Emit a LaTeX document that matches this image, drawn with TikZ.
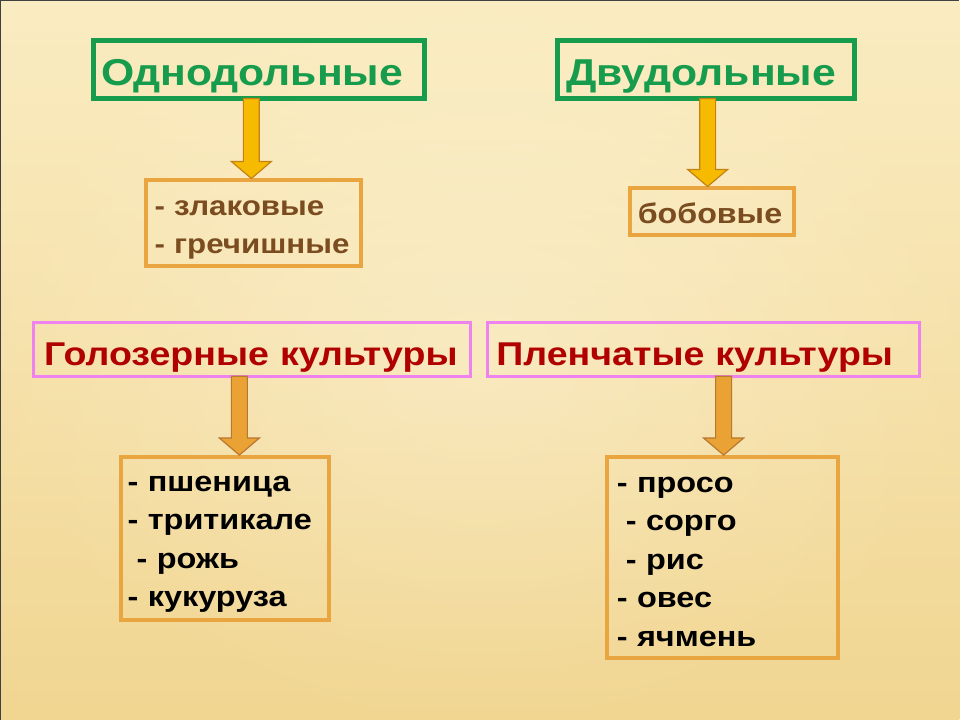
\documentclass[tikz,border=0pt]{standalone}
\usepackage{fontspec}
\setmainfont[FakeStretch=1.14]{Liberation Sans}
\usetikzlibrary{calc}

\definecolor{paperlight}{RGB}{253,242,206}
\definecolor{paperdark}{RGB}{241,214,146}
\definecolor{classgreen}{RGB}{22,156,76}
\definecolor{listorange}{RGB}{233,166,64}
\definecolor{listbrown}{RGB}{122,76,32}
\definecolor{cultpink}{RGB}{238,130,238}
\definecolor{cultred}{RGB}{176,0,0}
\definecolor{goldfill}{RGB}{246,186,0}
\definecolor{goldline}{RGB}{196,130,20}
\definecolor{amberfill}{RGB}{234,162,52}
\definecolor{amberline}{RGB}{184,120,48}

\tikzset{
  classbox/.style={draw=classgreen, line width=5pt, text=classgreen,
    font=\fontsize{37.5}{44}\selectfont\bfseries, align=left, inner xsep=8pt, inner ysep=0pt},
  groupbox/.style={draw=listorange, line width=4pt, text=listbrown,
    font=\fontsize{27.5}{38}\selectfont\bfseries, align=left, inner xsep=9pt, inner ysep=0pt},
  cultbox/.style={draw=cultpink, line width=3pt, text=cultred,
    font=\fontsize{33}{40}\selectfont\bfseries, align=left, inner xsep=11pt, inner ysep=0pt},
  cropbox/.style={draw=listorange, line width=4pt, text=black,
    font=\fontsize{28.5}{38.5}\selectfont\bfseries, align=left, inner xsep=8pt, inner ysep=0pt},
  goldarrow/.style={fill=goldfill, draw=goldline, line width=1.2pt, line join=miter},
  amberarrow/.style={fill=amberfill, draw=amberline, line width=1.2pt, line join=miter}
}

% strut: height, depth
\newcommand{\lift}[2]{\rule[-#2pt]{0pt}{\dimexpr #1pt+#2pt\relax}}

% block arrow: style, from node, to node, x position
\newcommand{\blockarrow}[4]{%
  \draw[#1] let \p1=(#2.south), \p2=(#3.north) in
    (#4pt-8pt,\y1+2pt) -- (#4pt+8pt,\y1+2pt) -- (#4pt+8pt,\y2+17pt)
    -- (#4pt+20pt,\y2+17pt) -- (#4pt,\y2) -- (#4pt-20pt,\y2+17pt)
    -- (#4pt-8pt,\y2+17pt) -- cycle;}

\begin{document}
\begin{tikzpicture}[x=1pt,y=-1pt]
% background
\shade[top color=paperlight, bottom color=paperdark] (0,0) rectangle (960,720);
\shade[inner color=white, outer color=paperdark, opacity=0.2] (0,0) rectangle (960,720);
\draw[black!75, line width=1.5pt] (0,720) -- (0,0) -- (960,0);

% classes
\node[classbox, minimum width=332pt, minimum height=58pt, text width=316pt] (mono) at (258.5,68.5) {\lift{41}{8}Однодольные};
\node[classbox, minimum width=298pt, minimum height=58pt, text width=280pt, inner xsep=9pt] (di) at (706.5,68.5) {\lift{41}{8}Двудольные};

\node[groupbox, minimum width=216pt, minimum height=86pt, text width=198pt] (monolist) at (253,223)
  {\lift{30.3}{0}- злаковые\\- гречишные\lift{0}{8}};
\node[groupbox, minimum width=164pt, minimum height=47pt, text width=148pt, inner xsep=8pt, font=\fontsize{28.3}{38}\selectfont\bfseries] (dilist) at (712,211.5)
  {\lift{32}{8}бобовые};

% cultures
\node[cultbox, minimum width=438pt, minimum height=54pt, text width=416pt] (naked) at (251.5,349.5) {\lift{39}{8}Голозерные культуры};
\node[cultbox, minimum width=433pt, minimum height=54pt, text width=415pt, inner xsep=9pt] (hulled) at (704,349.5) {\lift{39}{8}Пленчатые культуры};

\node[cropbox, minimum width=209pt, minimum height=163pt, text width=195pt, inner xsep=7pt] (nakedlist) at (224.5,538.5)
  {\lift{29.3}{0}- пшеница\\- тритикале\\\hspace{9pt}- рожь\\- кукуруза\lift{0}{8}};
\node[cropbox, minimum width=232pt, minimum height=201pt, text width=212pt, inner xsep=10pt] (hulledlist) at (723,557.5)
  {\lift{31.8}{0}- просо\\\hspace{9pt}- сорго\\\hspace{9pt}- рис\\- овес\\- ячмень\lift{0}{8}};

% arrows
\blockarrow{goldarrow}{mono}{monolist}{251}
\blockarrow{goldarrow}{di}{dilist}{708}
\blockarrow{amberarrow}{naked}{nakedlist}{239}
\blockarrow{amberarrow}{hulled}{hulledlist}{724}

\end{tikzpicture}
\end{document}
